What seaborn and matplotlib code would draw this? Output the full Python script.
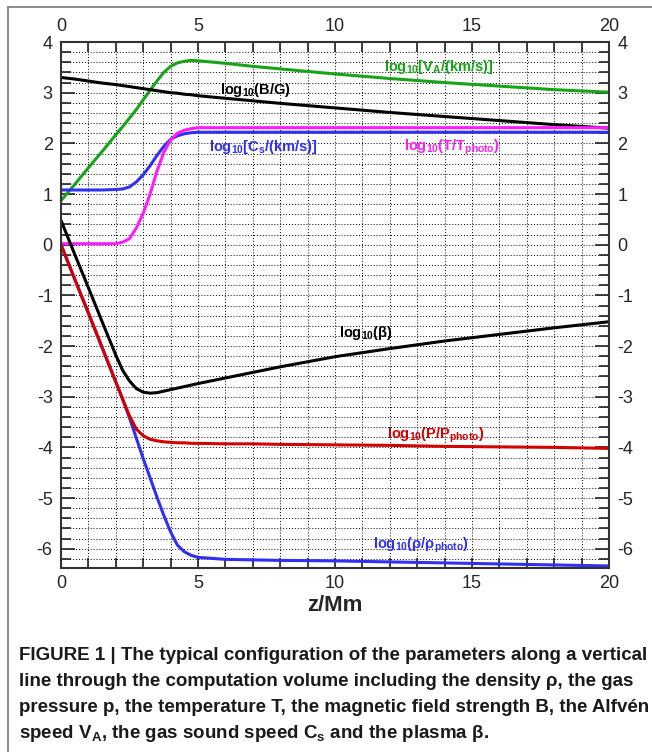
import numpy as np
import pandas as pd
import matplotlib
matplotlib.use("Agg")
import matplotlib.pyplot as plt
from matplotlib import font_manager
from matplotlib.lines import Line2D
from matplotlib.ticker import MultipleLocator
import seaborn as sns

# height along the vertical line (Mm)
z_mm = [0, 0.5, 1, 1.5, 2, 2.25, 2.5, 2.75, 3, 3.25, 3.5, 3.75, 4, 4.25,
        4.5, 4.75, 5, 6, 7, 8, 10, 12, 14, 16, 18, 20]

# log10 values
log_va = [0.87, 1.19, 1.52, 1.84, 2.17, 2.33, 2.50, 2.67, 2.86, 3.05, 3.23,
          3.40, 3.52, 3.59, 3.62, 3.64, 3.63, 3.58, 3.52, 3.47, 3.37, 3.28,
          3.20, 3.13, 3.06, 3.01]
log_b = [3.30, 3.27, 3.23, 3.19, 3.16, 3.14, 3.12, 3.10, 3.08, 3.06, 3.04,
         3.02, 3.00, 2.99, 2.97, 2.96, 2.94, 2.89, 2.84, 2.79, 2.70, 2.61,
         2.53, 2.45, 2.37, 2.30]
log_cs = [1.08, 1.08, 1.08, 1.08, 1.09, 1.10, 1.14, 1.24, 1.38, 1.56, 1.76,
          1.94, 2.08, 2.15, 2.19, 2.21, 2.22, 2.22, 2.22, 2.22, 2.22, 2.22,
          2.22, 2.22, 2.22, 2.22]
log_t = [0.02, 0.02, 0.02, 0.02, 0.02, 0.05, 0.12, 0.33, 0.62, 1.00, 1.45,
         1.82, 2.07, 2.20, 2.26, 2.29, 2.31, 2.31, 2.31, 2.31, 2.31, 2.31,
         2.31, 2.31, 2.31, 2.31]
log_beta = [0.48, -0.19, -0.85, -1.52, -2.18, -2.48, -2.69, -2.84, -2.91,
            -2.93, -2.92, -2.89, -2.86, -2.83, -2.80, -2.77, -2.74, -2.63,
            -2.52, -2.41, -2.21, -2.05, -1.90, -1.77, -1.64, -1.52]
log_rho = [0.0, -0.68, -1.35, -2.03, -2.71, -3.05, -3.42, -3.82, -4.22,
           -4.60, -4.98, -5.34, -5.67, -5.93, -6.06, -6.13, -6.17, -6.21,
           -6.22, -6.23, -6.24, -6.26, -6.28, -6.30, -6.32, -6.34]
log_p = [0.0, -0.68, -1.35, -2.03, -2.71, -3.05, -3.38, -3.64, -3.77, -3.84,
         -3.87, -3.89, -3.90, -3.91, -3.91, -3.92, -3.92, -3.93, -3.93,
         -3.94, -3.95, -3.96, -3.98, -3.99, -4.00, -4.02]

series_names = ["va", "b", "cs", "t", "beta", "rho", "p"]
series_values = [log_va, log_b, log_cs, log_t, log_beta, log_rho, log_p]
series_colors = {"va": "#16a516", "b": "#000000", "cs": "#2f2ff5",
                 "t": "#ff1aff", "beta": "#000000", "rho": "#2f2ff5",
                 "p": "#d40000"}

# curve annotations: (x, y, text, series)
curve_labels = [
    (11.8, 3.50, r"log$_{10}$[V$_A$/(km/s)]", "va"),
    (5.8, 3.06, r"log$_{10}$(B/G)", "b"),
    (5.4, 1.92, r"log$_{10}$[C$_s$/(km/s)]", "cs"),
    (12.5, 1.92, r"log$_{10}$(T/T$_{photo}$)", "t"),
    (10.15, -1.74, r"log$_{10}$(β)", "beta"),
    (11.9, -3.77, r"log$_{10}$(P/P$_{photo}$)", "p"),
    (11.4, -5.93, r"log$_{10}$(ρ/ρ$_{photo}$)", "rho"),
]

caption_lines = [
    "FIGURE 1 | The typical configuration of the parameters along a vertical",
    "line through the computation volume including the density ρ, the gas",
    "pressure p, the temperature T, the magnetic field strength B, the Alfvén",
    r"speed V$_A$, the gas sound speed C$_s$ and the plasma β.",
]


def _pick_font(names):
    for n in names:
        try:
            font_manager.findfont(font_manager.FontProperties(family=n),
                                  fallback_to_default=False)
            return n
        except ValueError:
            continue
    return "DejaVu Sans"


sns.set_style("ticks")
base_font = _pick_font(["Liberation Sans", "Arial", "DejaVu Sans"])
narrow_font = _pick_font(["Liberation Sans Narrow", base_font])
plt.rcParams["font.family"] = [base_font, "DejaVu Sans"]
plt.rcParams["mathtext.fontset"] = "custom"
plt.rcParams["mathtext.rm"] = narrow_font
plt.rcParams["mathtext.bf"] = narrow_font + ":bold"
plt.rcParams["mathtext.default"] = "bf"

frames = []
for name, vals in zip(series_names, series_values):
    frames.append(pd.DataFrame({"z": z_mm, "value": vals, "series": name}))
df = pd.concat(frames, ignore_index=True)

fig = plt.figure(figsize=(6.52, 7.52), dpi=100)
ax = fig.add_axes([0.0936, 0.2447, 0.8405, 0.6994])

sns.lineplot(data=df, x="z", y="value", hue="series", hue_order=series_names,
             palette=series_colors, units="series", estimator=None,
             sort=False, linewidth=2.2, legend=False, ax=ax)

ax.set_xlim(0, 20)
ax.set_ylim(-6.38, 4)
ax.xaxis.set_major_locator(MultipleLocator(5))
ax.xaxis.set_minor_locator(MultipleLocator(1))
ax.yaxis.set_major_locator(MultipleLocator(1))
ax.yaxis.set_minor_locator(MultipleLocator(0.2))
ax.grid(True, which="both", color="black", linestyle=(0, (1, 2)),
        linewidth=0.7)
ax.tick_params(which="both", direction="in", top=True, right=True,
               labeltop=True, labelright=True, labelsize=13, color="#222222",
               width=1.2)
ax.tick_params(axis="x", which="both", length=7, pad=5)
ax.tick_params(axis="y", which="major", length=10, pad=6)
ax.tick_params(axis="y", which="minor", length=7)
ax.set_yticks(np.arange(-6, 5, 1))
ax.set_yticklabels([str(v) for v in range(-6, 5)])
for s in ax.spines.values():
    s.set_linewidth(1.5)
    s.set_color("#333333")

ax.set_xlabel("z/Mm", fontsize=16, fontweight="bold", labelpad=2)
ax.set_ylabel("")

for x, y, txt, key in curve_labels:
    ax.text(x, y, txt, color=series_colors[key], fontsize=10.5,
            fontweight="bold", family=[narrow_font, "DejaVu Sans"],
            ha="left", va="center")

# frame around the figure panel
fig.add_artist(Line2D([8 / 652, 1.0], [1 - 7 / 752, 1 - 7 / 752],
                      color="#808080", linewidth=1.3))
fig.add_artist(Line2D([8 / 652, 8 / 652], [0.0, 1 - 7 / 752],
                      color="#808080", linewidth=1.3))

cap_y = [655, 681, 707, 733]
for y, line in zip(cap_y, caption_lines):
    fig.text(19 / 652, 1 - y / 752, line, fontsize=13.5, fontweight="bold",
             family=[narrow_font, "DejaVu Sans"], ha="left", va="center",
             color="#1a1a1a")

fig.savefig("out.png", dpi=100)
